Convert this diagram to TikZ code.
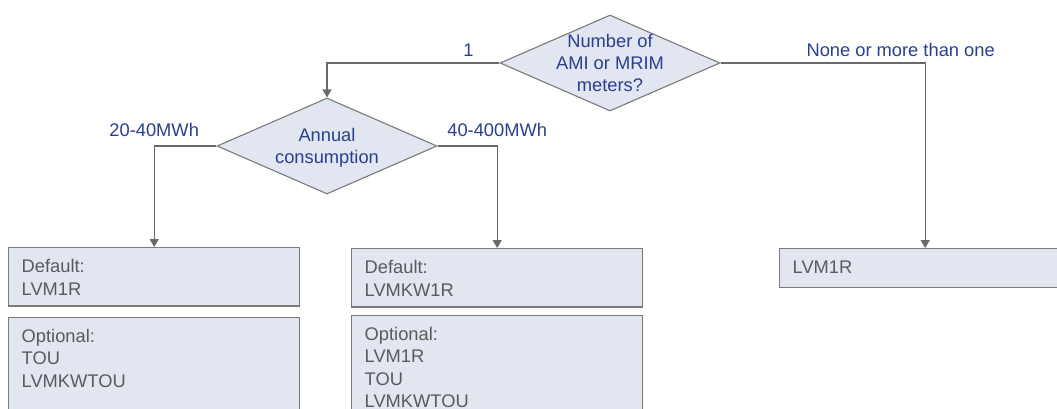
\documentclass[tikz,border=0pt]{standalone}
\usepackage{fontspec}
\setmainfont{Liberation Sans}
\usetikzlibrary{shapes.geometric,arrows.meta,positioning}
\definecolor{qblue}{HTML}{2B3E91}
\definecolor{boxfill}{HTML}{E1E6F0}
\definecolor{edgegray}{HTML}{7A7A7A}
\definecolor{linegray}{HTML}{6A6A6A}
\definecolor{txtgray}{HTML}{5A5A5A}

\begin{document}
\begin{tikzpicture}[x=1pt, y=-1pt, font=\fontsize{18.3}{22.2}\selectfont]
  \tikzstyle{decision}=[draw=edgegray, fill=boxfill, diamond, line width=1.1pt, minimum width=220pt, minimum height=96pt, inner sep=0pt]
  \tikzstyle{qtext}=[text=qblue, align=center, inner sep=0pt]
  \tikzstyle{result}=[draw=edgegray, fill=boxfill, text=txtgray, line width=1.4pt, text width=265pt, align=left, inner xsep=13pt, inner ysep=12pt, anchor=north west]
  \tikzstyle{lbl}=[text=qblue, inner sep=0pt, anchor=base]
  \tikzstyle{conn}=[draw=linegray, line width=1.3pt, -{Triangle[width=9pt,length=8pt]}]
  \useasboundingbox (0,0) rectangle (1057,408);
  \clip (0,0) rectangle (1057,408);
  % Decisions
  \node[decision] (meters) at (610,63) {};
  \node[qtext] (metersq) at (meters) {Number of\\AMI or MRIM\\meters?};
  \node[decision] (annual) at (327,146) {};
  \node[qtext, yshift=-2pt] (annualq) at (annual) {Annual\\consumption};

  % Tariff boxes
  \node[result, text depth=21pt] (defL) at (8,247) {Default:\\LVM1R};
  \node[result, text depth=90pt, below=10pt of defL.south west, anchor=north west] (optL) {Optional:\\TOU\\LVMKWTOU};
  \node[result, text depth=21pt] (defR) at (351,248) {Default:\\LVMKW1R};
  \node[result, text depth=90pt, below=7pt of defR.south west, anchor=north west] (optR) {Optional:\\LVM1R\\TOU\\LVMKWTOU};
  \node[result, text depth=2pt] (single) at (779,248) {LVM1R};

  % Connect them
  \draw[conn] (meters.west) -| node[lbl, pos=0.09, yshift=7pt] {1} (annual.north);
  \draw[conn] (meters.east) -| node[lbl, pos=0.44, yshift=7pt] {None or more than one} (single.north);
  \draw[conn] (annual.west) -| node[lbl, pos=0.5, yshift=10pt] {20-40MWh} (defL.north);
  \draw[conn] (annual.east) -| node[lbl, pos=0.5, yshift=10pt] {40-400MWh} (defR.north);
\end{tikzpicture}
\end{document}
